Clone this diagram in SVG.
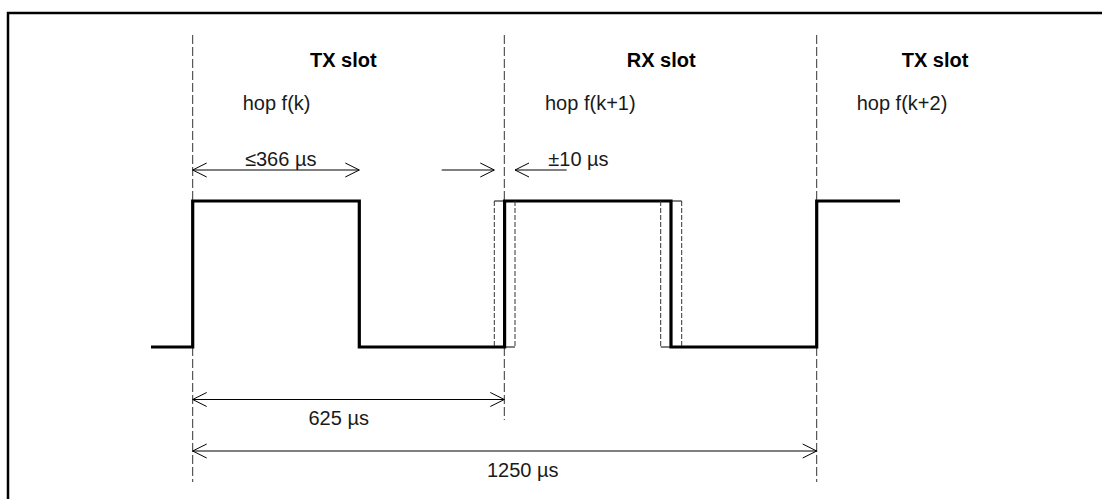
<svg xmlns="http://www.w3.org/2000/svg" width="1102" height="499" viewBox="0 0 1102 499">
<style>
text{font-family:"Liberation Sans",Arial,sans-serif;font-size:20px;fill:#1a1a1a}
.b{font-weight:bold;fill:#000}
.guide{stroke:#333;stroke-width:1;stroke-dasharray:9,3;fill:none}
.tol{stroke:#333;stroke-width:1;stroke-dasharray:5,2;fill:none}
.thin{stroke:#000;stroke-width:1;fill:none}
.sig{stroke:#000;stroke-width:3.2;fill:none;stroke-linejoin:miter}
.dim{stroke:#000;stroke-width:1;fill:none}
</style>
<defs>
<marker id="a" viewBox="0 0 16 16" markerWidth="16" markerHeight="16" refX="15" refY="8" orient="auto-start-reverse" markerUnits="userSpaceOnUse">
<path d="M1,1 L15,8 L1,15" fill="none" stroke="#000" stroke-width="1"/>
</marker>
</defs>
<rect width="1102" height="499" fill="#fff"/>
<path d="M8,499 V13 H1102" fill="none" stroke="#000" stroke-width="2.5"/>
<g id="guides">
<line class="guide" x1="192.7" y1="35" x2="192.7" y2="482"/>
<line class="guide" x1="504.3" y1="35" x2="504.3" y2="420"/>
<line class="guide" x1="816.7" y1="35" x2="816.7" y2="482"/>
</g>
<g id="labels">
<text class="b" x="310" y="66.7">TX slot</text>
<text class="b" x="626.7" y="66.7">RX slot</text>
<text class="b" x="901.7" y="66.7">TX slot</text>
<text x="242.7" y="110">hop f(k)</text>
<text x="545" y="110">hop f(k+1)</text>
<text x="856.7" y="110">hop f(k+2)</text>
</g>
<g id="signal">
<path class="sig" d="M151,347 H192.7 V201 H359.3 V347 H504.6 V201 H671 V347 H816.7 V201 H900"/>
<line class="tol" x1="494.3" y1="201" x2="494.3" y2="347"/>
<line class="tol" x1="515" y1="201" x2="515" y2="347"/>
<line class="thin" x1="494.3" y1="201" x2="504" y2="201"/>
<line class="thin" x1="505" y1="347" x2="515" y2="347"/>
<line class="tol" x1="660.7" y1="201" x2="660.7" y2="347"/>
<line class="tol" x1="681.7" y1="201" x2="681.7" y2="347"/>
<line class="thin" x1="671" y1="201" x2="681.7" y2="201"/>
<line class="thin" x1="660.7" y1="347" x2="671" y2="347"/>
</g>
<g id="connectors">
<line class="dim" x1="192.7" y1="170" x2="359.3" y2="170" marker-start="url(#a)" marker-end="url(#a)"/>
<line class="dim" x1="441.7" y1="170" x2="494.3" y2="170" marker-end="url(#a)"/>
<line class="dim" x1="566.7" y1="170" x2="515" y2="170" marker-end="url(#a)"/>
<line class="dim" x1="192.7" y1="399.5" x2="504.3" y2="399.5" marker-start="url(#a)" marker-end="url(#a)"/>
<line class="dim" x1="192.7" y1="451" x2="816.7" y2="451" marker-start="url(#a)" marker-end="url(#a)"/>
</g>
<g id="dim-labels">
<text x="245" y="166">≤366 µs</text>
<text x="548.3" y="166">±10 µs</text>
<text x="308.5" y="425">625 µs</text>
<text x="487" y="477">1250 µs</text>
</g>
</svg>
